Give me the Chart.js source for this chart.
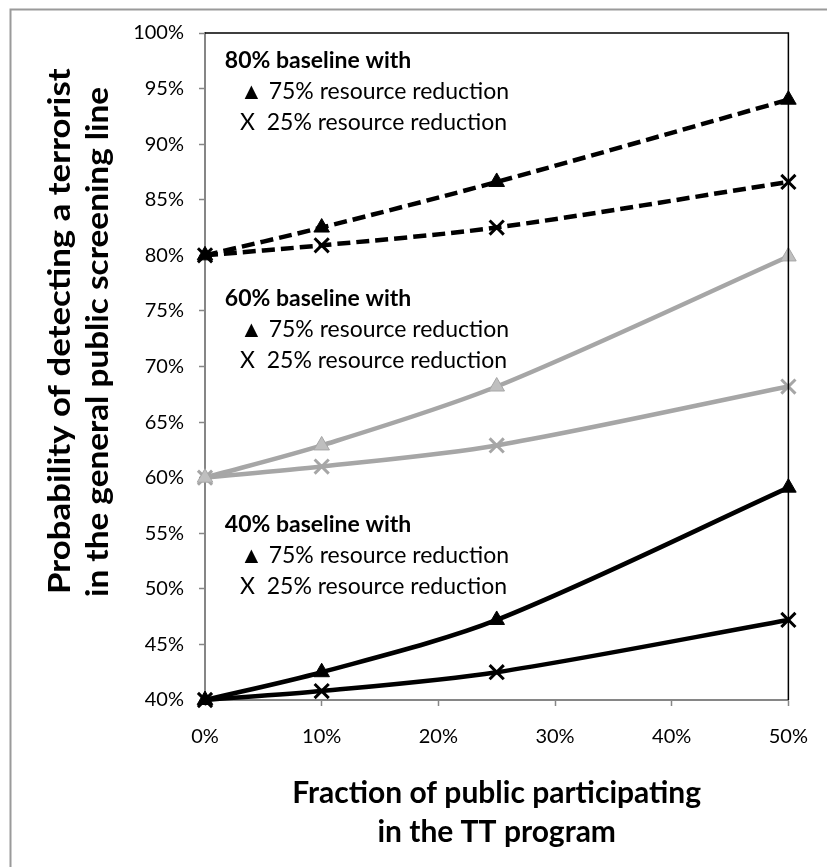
<!DOCTYPE html>
<html>
<head>
<meta charset="utf-8">
<script src="https://cdn.jsdelivr.net/npm/chart.js@4/dist/chart.umd.min.js"></script>
<style>
  html, body { margin: 0; padding: 0; background: #ffffff; }
  #wrap { width: 827px; height: 867px; }
</style>
</head>
<body>
<div id="wrap"><canvas id="c" width="827" height="867"></canvas></div>
<script>
// ---- data ----
const fractions = [0, 10, 25, 50];                 // % of public in TT program
const base80_r75 = [80, 82.5, 86.6, 94.0];
const base80_r25 = [80, 80.9, 82.5, 86.6];
const base60_r75 = [60, 62.9, 68.2, 79.9];
const base60_r25 = [60, 61.0, 62.9, 68.2];
const base40_r75 = [40, 42.5, 47.2, 59.1];
const base40_r25 = [40, 40.8, 42.5, 47.2];
const xTicks = [0, 10, 20, 30, 40, 50];
const yTicks = [40, 45, 50, 55, 60, 65, 70, 75, 80, 85, 90, 95, 100];
const xTitle = ["Fraction of public participating", "in the TT program"];
const yTitle = ["Probability of detecting a terrorist", "in the general public screening line"];
const noteGroups = [
  { head: "80% baseline with", y: 97.55 },
  { head: "60% baseline with", y: 76.15 },
  { head: "40% baseline with", y: 55.74 }
];
const noteLines = ["\u25B2 75% resource reduction", "X  25% resource reduction"];

const BLACK = "#000000";
const GRAY = "#a6a6a6";
const GRAYFILL = "#bfbfbf";
const AXIS = "#868686";
const FONT = "Lato, 'Open Sans', sans-serif";

function pts(vals) { return fractions.map((f, i) => ({ x: f, y: vals[i] })); }

function ds(vals, color, fill, style, dashed) {
  const tri = style === 'triangle';
  return {
    data: pts(vals),
    borderColor: color,
    borderWidth: 4.5,
    borderDash: dashed ? [13, 6] : [],
    tension: 0.3,
    clip: false,
    pointStyle: style,
    pointRadius: tri ? 9 : 10,
    pointHoverRadius: tri ? 9 : 10,
    pointBackgroundColor: fill,
    pointBorderColor: color,
    pointBorderWidth: tri ? 1 : 3
  };
}

const datasets = [
  ds(base60_r75, GRAY, GRAYFILL, 'triangle', false),
  ds(base60_r25, GRAY, GRAY, 'crossRot', false),
  ds(base40_r75, BLACK, BLACK, 'triangle', false),
  ds(base40_r25, BLACK, BLACK, 'crossRot', false),
  ds(base80_r75, BLACK, BLACK, 'triangle', true),
  ds(base80_r25, BLACK, BLACK, 'crossRot', true)
];

const decor = {
  id: 'decor',
  beforeDraw(chart) {
    const ctx = chart.ctx;
    ctx.save();
    ctx.fillStyle = '#ffffff';
    ctx.fillRect(0, 0, chart.width, chart.height);
    ctx.strokeStyle = '#9a9a9a';
    ctx.lineWidth = 2;
    ctx.beginPath();
    ctx.moveTo(chart.width + 5, 9.5);
    ctx.lineTo(10.5, 9.5);
    ctx.lineTo(10.5, chart.height + 5);
    ctx.stroke();
    ctx.restore();
  },
  afterDatasetsDraw(chart) {
    const ctx = chart.ctx;
    const a = chart.chartArea;
    const xs = chart.scales.x, ys = chart.scales.y;
    ctx.save();
    ctx.strokeStyle = '#000000';
    ctx.lineWidth = 1.5;
    ctx.beginPath();
    ctx.moveTo(a.left, a.top);
    ctx.lineTo(a.right, a.top);
    ctx.lineTo(a.right, a.bottom);
    ctx.stroke();

    // annotations
    ctx.fillStyle = '#000000';
    ctx.textBaseline = 'middle';
    ctx.textAlign = 'left';
    noteGroups.forEach(g => {
      const y0 = ys.getPixelForValue(g.y);
      ctx.font = 'bold 23px ' + FONT;
      ctx.fillText(g.head, xs.getPixelForValue(1.7), y0);
      ctx.font = '23px ' + FONT;
      noteLines.forEach((t, i) => {
        ctx.fillText(t, xs.getPixelForValue(3.0), y0 + 31 * (i + 1));
      });
    });

    // x-axis title
    ctx.font = 'bold 30px ' + FONT;
    ctx.textAlign = 'center';
    const cx = (a.left + a.right) / 2;
    ctx.fillText(xTitle[0], cx, a.bottom + 93);
    ctx.fillText(xTitle[1], cx, a.bottom + 132);

    // y-axis title (rotated, left-aligned lines)
    const stretch = [1.16, 1.11];
    ctx.textAlign = 'left';
    yTitle.forEach((t, i) => {
      ctx.save();
      ctx.translate(60 + 38 * i, 594 + 3 * i);
      ctx.rotate(-Math.PI / 2);
      ctx.scale(stretch[i], 1);
      ctx.fillText(t, 0, 0);
      ctx.restore();
    });
    ctx.restore();
  }
};

new Chart(document.getElementById('c'), {
  type: 'line',
  data: { datasets },
  options: {
    responsive: false,
    animation: false,
    events: [],
    layout: { padding: { left: 0, top: 33, right: 32, bottom: 0 } },
    plugins: { legend: { display: false }, tooltip: { enabled: false } },
    scales: {
      x: {
        type: 'linear',
        min: 0, max: 50,
        afterFit(s) { s.height = 167; },
        afterBuildTicks(s) { s.ticks = xTicks.map(v => ({ value: v })); },
        ticks: { color: '#000000', font: { family: FONT, size: 20 }, padding: 19,
                 callback: v => v + '%', maxRotation: 0 },
        grid: { drawOnChartArea: false, drawTicks: true, tickLength: 6, color: AXIS, tickWidth: 1.5 },
        border: { color: AXIS, width: 2 }
      },
      y: {
        type: 'linear',
        min: 40, max: 100,
        afterFit(s) { s.width = 205; },
        afterBuildTicks(s) { s.ticks = yTicks.map(v => ({ value: v })); },
        ticks: { color: '#000000', font: { family: FONT, size: 20 }, padding: 15,
                 callback: v => v + '%' },
        grid: { drawOnChartArea: false, drawTicks: true, tickLength: 6, color: AXIS, tickWidth: 1.5 },
        border: { color: AXIS, width: 2 }
      }
    }
  },
  plugins: [decor]
});
</script>
</body>
</html>
